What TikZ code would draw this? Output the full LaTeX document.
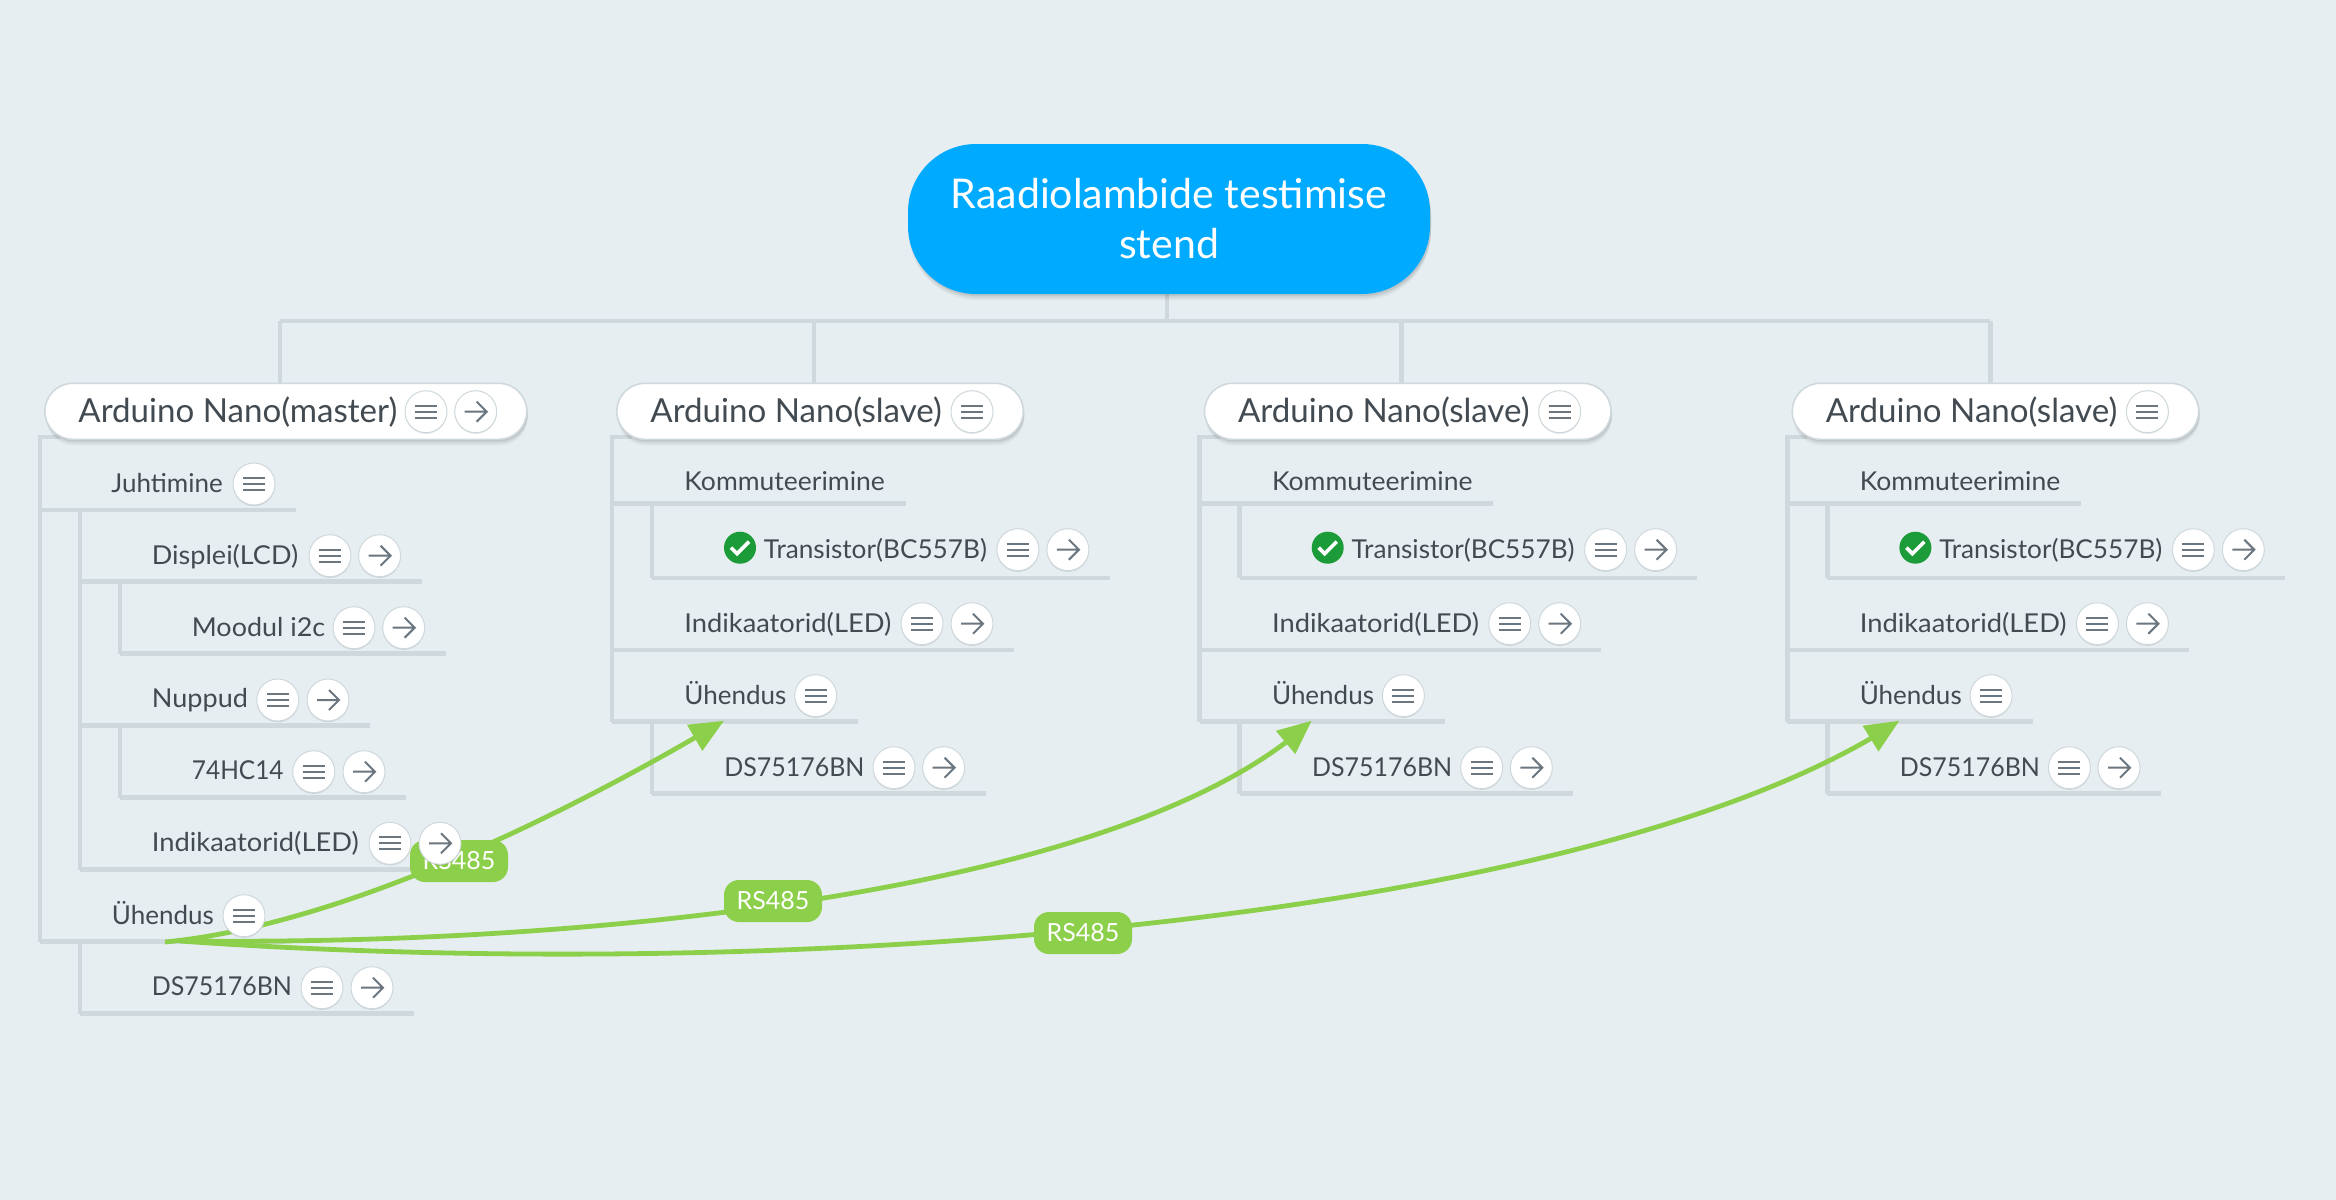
\documentclass[tikz,border=0pt]{standalone}
\usepackage{fontspec}
\setmainfont{Lato}
\usetikzlibrary{arrows.meta,shadows,bending}
\pgfdeclarelayer{lines}
\pgfsetlayers{lines,main}
\definecolor{bgc}{HTML}{E6EEF1}
\definecolor{branchc}{HTML}{CFD8DC}
\definecolor{rootc}{HTML}{00AAFF}
\definecolor{relc}{HTML}{8CCF4A}
\definecolor{inkc}{HTML}{434B52}
\definecolor{glyphc}{HTML}{6C767E}
\definecolor{okc}{HTML}{1C9B39}
\tikzset{
  softshadow/.style={
    general shadow={shadow xshift=.5pt,shadow yshift=-3pt,fill=black,opacity=.04},
    general shadow={shadow xshift=.5pt,shadow yshift=-2pt,fill=black,opacity=.06},
    general shadow={shadow xshift=.5pt,shadow yshift=-1pt,fill=black,opacity=.08}},
  rootpill/.style={softshadow,fill=rootc,rounded corners=34pt,minimum width=261pt,minimum height=75pt,inner sep=0pt,
     align=center,text=white,font=\fontsize{20.5}{25}\selectfont},
  mainpill/.style={softshadow,fill=white,draw=branchc,line width=.8pt,rounded corners=14pt,minimum height=28pt,inner sep=0pt,anchor=north west},
  title/.style={anchor=base west,inner sep=0pt,text=inkc,font=\fontsize{16.55}{18}\selectfont},
  topic/.style={anchor=base west,inner sep=0pt,text=inkc,font=\fontsize{13}{16}\selectfont},
  branch/.style={draw=branchc,line width=2.3pt},
  rel/.style={draw=relc,line width=2.4pt,-{Triangle[length=17pt,width=14.5pt]}},
  rellabel/.style={fill=relc,rounded corners=7.5pt,minimum width=49pt,minimum height=21pt,inner sep=0pt,text=white,font=\fontsize{12.5}{16}\selectfont},
  btn/.style={circle,fill=white,draw=branchc,line width=.5pt,minimum size=21pt,inner sep=0pt,
    general shadow={shadow xshift=0pt,shadow yshift=-.6pt,fill=black,opacity=.10}},
  glyph/.style={draw=glyphc,line width=1pt},
}
\newcommand{\st}[2]{{\addfontfeatures{FakeStretch=#1}#2}}
\newcommand{\tline}[4]{\coordinate (#1-a) at (#2,#4);\coordinate (#1-b) at (#3,#4);\draw[branch] (#1-a) -- (#1-b);}
\newcommand{\menubtn}[3]{\begin{scope}[shift={(#2,#3)}]\node[btn] (#1) at (0,0) {};
  \draw[glyph] (-11,-6) -- (11,-6) (-11,0) -- (11,0) (-11,6) -- (11,6);\end{scope}}
\newcommand{\arrowbtn}[3]{\begin{scope}[shift={(#2,#3)}]\node[btn] (#1) at (0,0) {};
  \draw[glyph] (-11,0) -- (11,0) (1,-10) -- (11,0) -- (1,10);\end{scope}}
\begin{document}
\begin{tikzpicture}[x=.5pt,y=-.5pt]
\useasboundingbox (0,0) rectangle (2336,1200);
\begin{pgfonlayer}{lines}
\fill[bgc] (0,0) rectangle (2336,1200);
\end{pgfonlayer}
% big boxes
\node[rootpill] (root) at (1169,219) {\raisebox{.5pt}{Raadiolambide testimise}\\\raisebox{.5pt}{stend}};
\node[mainpill,minimum width=241pt] (master) at (44,382.5) {};
\foreach \c/\o in {2/0,3/587.7,4/1175.4}{
  \node[mainpill,minimum width=203.25pt] (s\c) at (\o+616,382.5) {};
}
% tree lines
\begin{pgfonlayer}{lines}
\coordinate (stem) at (1167,321);
\coordinate (bus1) at (280,321);
\coordinate (bus2) at (814,321);
\coordinate (bus3) at (1401.7,321);
\coordinate (bus4) at (1990.4,321);
\draw[branch] (root.south -| stem) -- (stem);
\draw[branch] (bus1) -- (bus4);
\draw[branch] (bus1) -- (bus1 |- master.north);
\draw[branch] (bus2) -- (bus2 |- s2.north);
\draw[branch] (bus3) -- (bus3 |- s3.north);
\draw[branch] (bus4) -- (bus4 |- s4.north);
% master column
\tline{mjuht}{40}{296}{510}
\tline{mdisp}{80}{421.7}{581.7}
\tline{mmood}{120}{446}{653.7}
\tline{mnupp}{80}{369.7}{725.7}
\tline{mhc}{120}{405.7}{797.7}
\tline{mind}{80}{481}{869.7}
\tline{muhe}{40}{285}{941.7}
\tline{mds}{80}{413.7}{1013.7}
\coordinate (mtop) at (40,437);
\draw[branch] (60,437) -- (mtop) -- (muhe-a);
\draw[branch] (80,510) -- (mind-a);
\draw[branch] (120,581.7) -- (mmood-a);
\draw[branch] (120,725.7) -- (mhc-a);
\draw[branch] (80,941.7) -- (mds-a);
% slave columns
\foreach \c/\o in {2/0,3/587.7,4/1175.4}{
  \tline{s\c kom}{\o+612}{\o+905.7}{503.7}
  \tline{s\c tr}{\o+652}{\o+1109.6}{578}
  \tline{s\c ind}{\o+612}{\o+1013.6}{650}
  \tline{s\c uhe}{\o+612}{\o+857.5}{721.7}
  \tline{s\c ds}{\o+652}{\o+985.7}{793.7}
  \coordinate (s\c top) at (\o+612,437);
  \draw[branch] (\o+632,437) -- (s\c top) -- (s\c uhe-a);
  \draw[branch] (\o+652,503.7) -- (s\c tr-a);
  \draw[branch] (\o+652,721.7) -- (s\c ds-a);
}
\end{pgfonlayer}
% relationships
\coordinate (rs1) at (165,942);
\coordinate (rs2) at (195,941);
\coordinate (rs3) at (180,941);
\coordinate (rt2) at (724,720.7);
\coordinate (rt3) at (1311.7,720.7);
\coordinate (rt4) at (1899.4,720.7);
\draw[rel] (rs1) .. controls (340,925) and (560,818) .. (rt2);
\draw[rel] (rs2) .. controls (600,945) and (1130,890) .. (rt3);
\draw[rel] (rs3) .. controls (800,985) and (1600,920) .. (rt4);
\node[rellabel] (lab1) at (459,861) {RS485};
\node[rellabel] (lab2) at (773,901) {RS485};
\node[rellabel] (lab3) at (1083,933) {RS485};
% master texts and buttons
\node[title] (mastert) at (78,422.7) {Arduino Nano(master)};
\menubtn{masterm}{426}{411.7}\arrowbtn{mastera}{475.7}{411.7}
\node[topic] (juht) at (111,492) {Juhtimine};
\menubtn{juhtm}{254}{484}
\node[topic] (disp) at (151.5,564) {\st{1.04}{Displei(LCD)}};
\menubtn{dispm}{330}{555.7}\arrowbtn{dispa}{379.6}{555.7}
\node[topic] (mood) at (191.5,636) {\st{1.035}{Moodul i2c}};
\menubtn{moodm}{354}{627.7}\arrowbtn{mooda}{403.7}{627.7}
\node[topic] (nupp) at (151.5,707.7) {\st{1.04}{Nuppud}};
\menubtn{nuppm}{277.8}{700}\arrowbtn{nuppa}{328}{700}
\node[topic] (hc) at (191.5,779.3) {\st{.94}{74HC14}};
\menubtn{hcm}{313.8}{771.7}\arrowbtn{hca}{364}{771.7}
\node[topic] (mindt) at (151.5,851.7) {\st{1.05}{Indikaatorid(LED)}};
\menubtn{mindm}{390}{843.3}\arrowbtn{minda}{440}{843.3}
\node[topic] (muhet) at (111.5,924) {\st{1.0}{Ühendus}};
\menubtn{muhem}{244}{915.7}
\node[topic] (mdst) at (151.5,995.7) {\st{.96}{DS75176BN}};
\menubtn{mdsm}{322}{987.7}\arrowbtn{mdsa}{372}{987.7}
% slave texts and buttons
\foreach \c/\o in {2/0,3/587.7,4/1175.4}{
  \node[title] (s\c t) at (\o+650,422.7) {Arduino Nano(slave)};
  \menubtn{s\c m}{\o+972}{411.7}
  \node[topic] (s\c komt) at (\o+684,490) {\st{1.02}{Kommuteerimine}};
  \begin{scope}[shift={(\o+740,547.7)}]
    \node[circle,fill=okc,minimum size=16pt,inner sep=0pt] (s\c ok) at (0,0) {};
    \draw[white,line width=1.8pt] (-9,0) -- (-3,6) -- (9,-6);
  \end{scope}
  \node[topic] (s\c trt) at (\o+763.5,558.3) {\st{1.007}{Transistor(BC557B)}};
  \menubtn{s\c trm}{\o+1017.9}{549.7}\arrowbtn{s\c tra}{\o+1067.9}{549.7}
  \node[topic] (s\c indt) at (\o+684,632) {\st{1.05}{Indikaatorid(LED)}};
  \menubtn{s\c indm}{\o+922}{623.7}\arrowbtn{s\c inda}{\o+972}{623.7}
  \node[topic] (s\c uhet) at (\o+684,704) {\st{1.0}{Ühendus}};
  \menubtn{s\c uhem}{\o+815.7}{695.7}
  \node[topic] (s\c dst) at (\o+724,776) {\st{.96}{DS75176BN}};
  \menubtn{s\c dsm}{\o+894}{767.7}\arrowbtn{s\c dsa}{\o+943.6}{767.7}
}
\end{tikzpicture}
\end{document}
